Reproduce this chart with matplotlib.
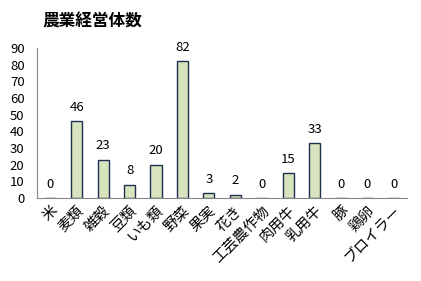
import matplotlib
matplotlib.use("Agg")
import matplotlib.pyplot as plt

plt.rcParams['font.family'] = ['Noto Sans CJK JP', 'DejaVu Sans']

categories = ["米", "麦類", "雑穀", "豆類", "いも類", "野菜", "果実", "花き",
              "工芸農作物", "肉用牛", "乳用牛", "豚", "鶏卵", "ブロイラー"]
values = [0, 46, 23, 8, 20, 82, 3, 2, 0, 15, 33, 0, 0, 0]
yticks = [0, 10, 20, 30, 40, 50, 60, 70, 80, 90]

fig = plt.figure(figsize=(4.21, 2.81), dpi=100)
ax = fig.add_axes([0.088, 0.295, 0.879, 0.534])

x = range(len(categories))
ax.bar(x, values, width=0.42, color="#D7E4BD", edgecolor="#1F2F4F", linewidth=1.0)
for xi, v in zip(x, values):
    ax.text(xi, v + 4.5, str(v), ha="center", va="bottom", fontsize=9.5)

ax.set_xlim(-0.5, len(categories) - 0.5)
ax.set_ylim(0, 90)
ax.set_yticks(yticks)
ax.tick_params(axis="y", length=0, labelsize=9.5, pad=9)
ax.tick_params(axis="x", length=0, pad=4)
ax.set_xticks(list(x))
ax.set_xticklabels(categories, rotation=45, ha="right", rotation_mode="anchor", fontsize=10.5)

for side in ("top", "right"):
    ax.spines[side].set_visible(False)
for side in ("left", "bottom"):
    ax.spines[side].set_color("#868686")
    ax.spines[side].set_linewidth(0.8)

fig.text(0.1, 0.925, "農業経営体数", fontsize=12, fontweight="bold", ha="left", va="center")

fig.savefig("out.png", dpi=100)
